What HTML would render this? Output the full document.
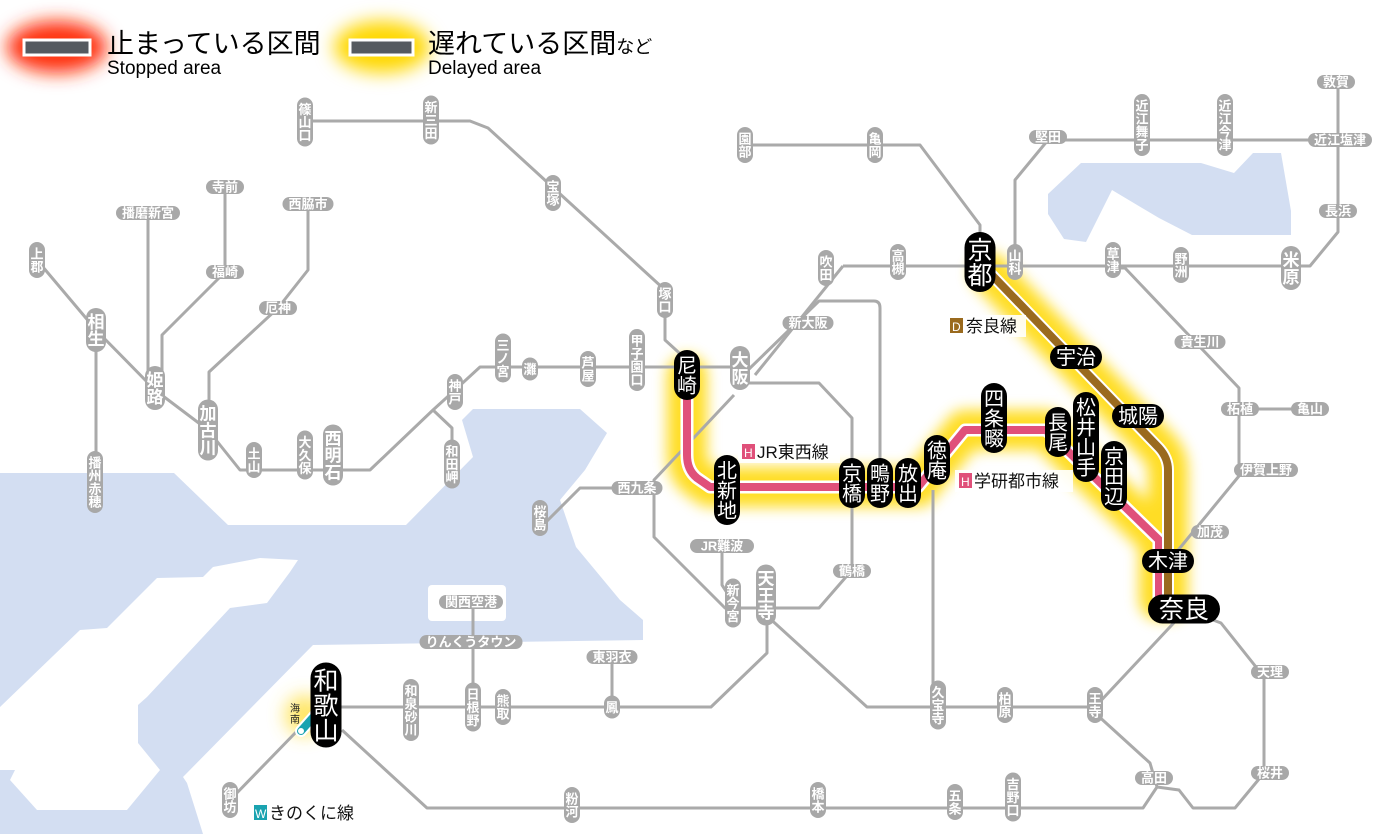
<!DOCTYPE html>
<html><head><meta charset="utf-8">
<style>
html,body{margin:0;padding:0;background:#fff;}
svg{display:block;font-family:"Liberation Sans","Noto Sans CJK JP",sans-serif;}
</style></head>
<body>
<svg id="m" width="1400" height="834" viewBox="0 0 1400 834" xmlns="http://www.w3.org/2000/svg">
<defs>
<filter id="bl" x="-20%" y="-20%" width="140%" height="140%"><feGaussianBlur stdDeviation="7"/></filter>
<filter id="bl2" x="-50%" y="-50%" width="200%" height="200%"><feGaussianBlur stdDeviation="9"/></filter>
</defs>
<!-- water -->
<g fill="#d3def2">
<polygon points="0,473 174,473 228,525 406,525 473,457 462,420 473,409 580,409 607,433 585,470 560,500 576,547 620,600 643,620 643,640 313,645 183,777 187,783 203,834 0,834"/>
<polygon points="1048,194 1081,163 1201,163 1234,173 1253,153 1281,153 1291,211 1291,235 1192,235 1159,218 1112,190 1086,242 1064,239 1048,214"/>
</g>
<g fill="#fff">
<polygon points="260,558 298,560 290,572 267,603 230,608 147,697 138,705 138,743 160,770 127,810 37,810 10,780 15,770 0,770 0,707 80,630 107,628 157,578 203,577 213,567"/>
<rect x="428" y="585" width="78" height="36" rx="4"/>
</g>
<g id="glow" filter="url(#bl)" fill="none" stroke="#ffd800" stroke-linejoin="round" stroke-linecap="round" stroke-width="40" opacity="0.85">
<path d="M687,375 V455 Q687,470 697,478 L710,487 H918 L965,430 H1046 L1159,540 V600"/>
<path d="M990,273 L1159,448 Q1168,458 1168,470 V600"/>
</g>
<circle cx="305" cy="715" r="20" fill="#ffe040" filter="url(#bl2)" opacity="0.8"/>
<!-- legend -->
<ellipse cx="57" cy="47" rx="50" ry="26" fill="#ff3010" filter="url(#bl2)"/>
<ellipse cx="382" cy="47" rx="48" ry="26" fill="#ffd800" filter="url(#bl2)"/>
<rect x="24" y="40" width="66" height="15" fill="#555a60" stroke="#fff" stroke-width="3"/>
<rect x="350" y="40" width="63" height="15" fill="#555a60" stroke="#fff" stroke-width="3"/>
<text x="107" y="53" font-size="27" fill="#000">止まっている区間</text>
<text x="107" y="74" font-size="19" fill="#000">Stopped area</text>
<text x="428" y="53" font-size="27" fill="#000">遅れている区間<tspan font-size="18">など</tspan></text>
<text x="428" y="74" font-size="19" fill="#000">Delayed area</text>
<!-- gray lines -->
<g fill="none" stroke="#aaa" stroke-width="3" stroke-linejoin="round">
<path d="M305,121 H470 L488,128 L665,290 V340 L687,360"/>
<path d="M37,260 L96,330 L155,390 L208,430 L240,470 H370 L433,410 L455,390 L480,367 H745"/>
<path d="M96,330 V482"/>
<path d="M148,213 V390"/>
<path d="M225,187 V272 L162,335 V390"/>
<path d="M308,204 V270 L278,308 L209,372 V430"/>
<path d="M433,410 L452,428 V462"/>
<path d="M745,145 H920 L980,225 V262"/>
<path d="M843,266 H1310 L1338,232 V82"/>
<path d="M843,266 L755,375"/>
<path d="M1015,265 V180 L1048,140 H1338"/>
<path d="M1113,268 H1125 L1239,388 V476 L1170,560"/>
<path d="M1239,409 H1310"/>
<path d="M766,615 L867,707 H1095 L1184,612"/>
<path d="M1095,713 L1150,763 L1157,787 L1143,808 H427 L342,730"/>
<path d="M1157,787 L1179,790 L1193,808 H1235 L1264,773 V677 L1221,623 L1184,609"/>
<path d="M340,707 H711 L767,653 V600"/>
<path d="M473,602 V707"/>
<path d="M612,657 V707"/>
<path d="M230,800 L300,728"/>
<path d="M734,383 H819 L852,418 V570 L819,608 H725 L654,537 V480 L734,395"/>
<path d="M637,488 H580 L543,525"/>
<path d="M722,546 V585 L735,605"/>
<path d="M748,370 L819,301 H874 Q880,301 880,308 V483"/>
<path d="M933,490 V705"/>
</g>
<!-- colored lines -->
<g fill="none" stroke-linejoin="round">
<path d="M687,375 V455 Q687,470 697,478 L710,487 H918 L965,430 H1046 L1159,540 V600" stroke="#fff" stroke-width="13"/>
<path d="M687,375 V455 Q687,470 697,478 L710,487 H918 L965,430 H1046 L1159,540 V600" stroke="#e0507a" stroke-width="8"/>
<path d="M990,273 L1159,448 Q1168,458 1168,470 V600" stroke="#fff" stroke-width="12"/>
<path d="M990,273 L1159,448 Q1168,458 1168,470 V600" stroke="#9a6a1e" stroke-width="8"/>
</g>
<!-- wakayama/kainan icon -->
<line x1="301" y1="731" x2="316" y2="714" stroke="#fff" stroke-width="12" stroke-linecap="round"/>
<line x1="301" y1="731" x2="316" y2="714" stroke="#1aa3b0" stroke-width="8" stroke-linecap="round"/>
<circle cx="301" cy="731" r="3" fill="#fff"/>
<text x="290" y="712" font-size="10" fill="#222">海</text>
<text x="290" y="723" font-size="10" fill="#222">南</text>
<!-- line labels -->
<g font-size="17" fill="#111">
<rect x="946" y="315" width="80" height="22" fill="#fff" opacity="0.9"/>
<rect x="950" y="318" width="13" height="15" fill="#9a6a1e"/><text x="952" y="331" font-size="12" fill="#fff">D</text>
<text x="966" y="332">奈良線</text>
<rect x="738" y="441" width="102" height="22" fill="#fff" opacity="0.9"/>
<rect x="742" y="444" width="13" height="15" fill="#e0507a"/><text x="744" y="457" font-size="12" fill="#fff">H</text>
<text x="757" y="458">JR東西線</text>
<rect x="955" y="470" width="118" height="22" fill="#fff" opacity="0.9"/>
<rect x="959" y="473" width="13" height="15" fill="#e0507a"/><text x="961" y="486" font-size="12" fill="#fff">H</text>
<text x="974" y="487">学研都市線</text>
<rect x="250" y="801" width="112" height="23" fill="#fff" opacity="0.9"/>
<rect x="254" y="805" width="13" height="15" fill="#1aa3b0"/><text x="255" y="818" font-size="12" fill="#fff">W</text>
<text x="269" y="819">きのくに線</text>
</g>
<g id="st"></g>
</svg>
<script>
(function(){
var NS="http://www.w3.org/2000/svg",g=document.getElementById("st");
function el(t,a,txt){var e=document.createElementNS(NS,t);for(var k in a)e.setAttribute(k,a[k]);if(txt)e.textContent=txt;g.appendChild(e);return e;}
var K={g:[13,'#a8a8a8',16],G:[17,'#a8a8a8',20],b:[20,'#000',26],B:[25,'#000',31]};
function v(n,x,y,k){var p=K[k],fs=p[0],w=p[2],h=n.length*fs+10;
 el('rect',{x:x-w/2,y:y-h/2,width:w,height:h,rx:w/2,fill:p[1]});
 for(var i=0;i<n.length;i++)el('text',{x:x,y:y-h/2+5+fs*(i+0.88),'font-size':fs,'text-anchor':'middle',fill:'#fff','font-weight':k=='g'||k=='G'?'bold':'normal'},n[i]);}
function h(n,x,y,k){var p=K[k],fs=p[0],h=p[2]-2,w=n.length*fs+(k=='B'?22:12);
 el('rect',{x:x-w/2,y:y-h/2,width:w,height:h,rx:h/2,fill:p[1]});
 el('text',{x:x,y:y+fs*0.36,'font-size':fs,'text-anchor':'middle',fill:'#fff','font-weight':k=='g'?'bold':'normal'},n);}
var V=[["篠山口",305,122,'g'],["新三田",431,120,'g'],["宝塚",553,193,'g'],["塚口",665,300,'g'],["上郡",37,260,'g'],["播州赤穂",95,482,'g'],["土山",254,460,'g'],["大久保",305,455,'g'],["神戸",455,392,'g'],["和田岬",452,464,'g'],["三ノ宮",503,358,'g'],["灘",530,369,'g'],["芦屋",588,369,'g'],["甲子園口",637,360,'g'],["園部",745,145,'g'],["亀岡",875,145,'g'],["吹田",826,268,'g'],["高槻",898,262,'g'],["山科",1015,262,'g'],["近江舞子",1142,125,'g'],["近江今津",1225,125,'g'],["草津",1113,260,'g'],["野洲",1181,265,'g'],["王寺",1095,705,'g'],["柏原",1005,705,'g'],["久宝寺",938,705,'g'],["新今宮",733,603,'g'],["桜島",540,518,'g'],["熊取",503,707,'g'],["日根野",473,707,'g'],["和泉砂川",411,710,'g'],["鳳",612,707,'g'],["御坊",230,800,'g'],["粉河",572,805,'g'],["橋本",818,800,'g'],["五条",955,802,'g'],["吉野口",1013,797,'g'],
["相生",96,330,'G'],["姫路",155,388,'G'],["加古川",208,430,'G'],["西明石",333,455,'G'],["大阪",740,368,'G'],["米原",1291,268,'G'],["天王寺",766,595,'G'],
["尼崎",687,375,'b'],["北新地",727,490,'b'],["京橋",852,483,'b'],["鴫野",880,483,'b'],["放出",908,483,'b'],["徳庵",937,460,'b'],["四条畷",994,418,'b'],["長尾",1058,432,'b'],["松井山手",1086,437,'b'],["京田辺",1114,476,'b'],
["京都",980,262,'B'],["和歌山",326,705,'B']];
var H=[["播磨新宮",148,213,'g'],["寺前",225,187,'g'],["福崎",225,272,'g'],["西脇市",308,204,'g'],["厄神",278,308,'g'],["新大阪",808,323,'g'],["堅田",1048,137,'g'],["敦賀",1336,82,'g'],["近江塩津",1340,140,'g'],["長浜",1338,211,'g'],["貴生川",1200,342,'g'],["柘植",1240,409,'g'],["亀山",1310,409,'g'],["伊賀上野",1266,470,'g'],["加茂",1210,532,'g'],["天理",1270,672,'g'],["桜井",1270,773,'g'],["高田",1154,778,'g'],["鶴橋",852,571,'g'],["JR難波",722,546,'g'],["西九条",637,488,'g'],["関西空港",471,602,'g'],["りんくうタウン",471,642,'g'],["東羽衣",612,657,'g'],
["宇治",1076,357,'b'],["城陽",1138,416,'b'],["木津",1168,561,'b'],["奈良",1184,609,'B']];
V.forEach(function(s){v(s[0],s[1],s[2],s[3]);});
H.forEach(function(s){h(s[0],s[1],s[2],s[3]);});
})();
</script>
</body></html>
